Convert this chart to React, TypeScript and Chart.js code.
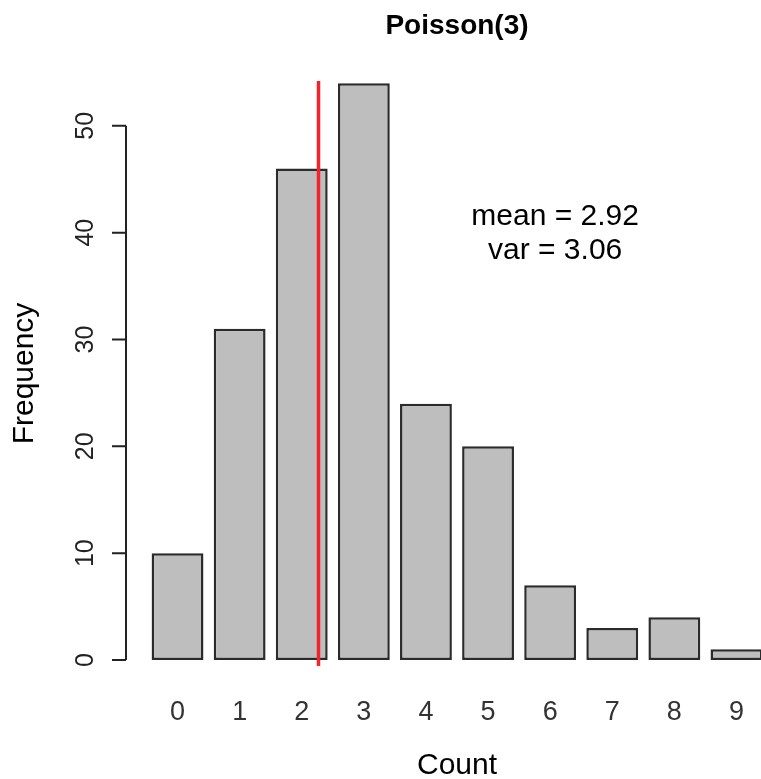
import React, { useEffect, useRef } from "react";
import { Chart, registerables } from "chart.js";

Chart.register(...registerables);

// ---- data ----
const countLabels = ["0", "1", "2", "3", "4", "5", "6", "7", "8", "9"];
const countValues = [0, 1, 2, 3, 4, 5, 6, 7, 8, 9];
const frequencies = [10, 31, 46, 54, 24, 20, 7, 3, 4, 1];
const yTickValues = [0, 10, 20, 30, 40, 50];
const meanLineX = 2.27; // position of the red vertical line, in bar-index units
const chartTitle = "Poisson(3)";
const xAxisTitle = "Count";
const yAxisTitle = "Frequency";
const annotationLines = ["mean = 2.92", "var = 3.06"];
const annotationAt = { x: 6.08, y: 40 };
const xRange = { min: -0.83, max: 9.83 };
const yRange = { min: -0.56, max: 54.2 };

const FONT = '"Liberation Sans", Arial, Helvetica, sans-serif';

const rBasePlot = {
  id: "rBasePlot",
  afterDraw(chart: any) {
    const { ctx, chartArea } = chart;
    const xs = chart.scales.x;
    const ys = chart.scales.y;
    const cx = (chartArea.left + chartArea.right) / 2;
    const cy = (chartArea.top + chartArea.bottom) / 2;
    ctx.save();
    ctx.fillStyle = "#000";
    ctx.textAlign = "center";
    ctx.textBaseline = "alphabetic";

    // main title
    ctx.font = `bold 28px ${FONT}`;
    ctx.fillText(chartTitle, cx, 34);

    // x axis title
    ctx.font = `30px ${FONT}`;
    ctx.fillText(xAxisTitle, cx, 774);

    // y axis title (rotated)
    ctx.save();
    ctx.translate(33, cy);
    ctx.rotate(-Math.PI / 2);
    ctx.fillText(yAxisTitle, 0, 0);
    ctx.restore();

    // y axis line + ticks (R style: spans first to last tick)
    const axX = chartArea.left;
    ctx.strokeStyle = "#222";
    ctx.lineWidth = 2;
    ctx.beginPath();
    ctx.moveTo(axX, ys.getPixelForValue(yTickValues[0]));
    ctx.lineTo(axX, ys.getPixelForValue(yTickValues[yTickValues.length - 1]));
    yTickValues.forEach((v) => {
      const py = ys.getPixelForValue(v);
      ctx.moveTo(axX - 14, py);
      ctx.lineTo(axX, py);
    });
    ctx.stroke();

    // y tick labels (rotated)
    ctx.font = `25px ${FONT}`;
    ctx.fillStyle = "#222";
    yTickValues.forEach((v) => {
      const py = ys.getPixelForValue(v);
      ctx.save();
      ctx.translate(93, py);
      ctx.rotate(-Math.PI / 2);
      ctx.fillText(String(v), 0, 0);
      ctx.restore();
    });

    // x tick labels
    ctx.font = `27px ${FONT}`;
    ctx.fillStyle = "#333";
    countValues.forEach((v, i) => {
      ctx.fillText(countLabels[i], xs.getPixelForValue(v), 720);
    });

    // annotation text
    ctx.font = `30px ${FONT}`;
    ctx.fillStyle = "#000";
    const ax = xs.getPixelForValue(annotationAt.x);
    const ay = ys.getPixelForValue(annotationAt.y);
    ctx.fillText(annotationLines[0], ax, ay - 8);
    ctx.fillText(annotationLines[1], ax, ay + 26);

    ctx.restore();
  },
};

export default function App() {
  const canvasRef = useRef<HTMLCanvasElement | null>(null);

  useEffect(() => {
    const canvas = canvasRef.current;
    if (!canvas) return;
    const chart = new Chart(canvas, {
      type: "bar",
      data: {
        datasets: [
          {
            type: "line",
            label: "mean",
            data: [
              { x: meanLineX, y: yRange.min },
              { x: meanLineX, y: yRange.max },
            ],
            borderColor: "#f3232d",
            borderWidth: 3.5,
            pointRadius: 0,
            order: 0,
          } as any,
          {
            type: "bar",
            label: "Frequency",
            data: countValues.map((c, i) => ({ x: c, y: frequencies[i] })),
            backgroundColor: "#bebebe",
            borderColor: "#2b2b2b",
            borderWidth: 2.5,
            borderSkipped: false,
            barPercentage: 0.835,
            categoryPercentage: 1,
            order: 1,
          } as any,
        ],
      },
      options: {
        responsive: false,
        devicePixelRatio: 1,
        animation: false,
        layout: { padding: { left: 126, top: 81, right: 32, bottom: 113 } },
        plugins: {
          legend: { display: false },
          title: { display: false },
          tooltip: { enabled: false },
        },
        scales: {
          x: {
            type: "linear",
            display: false,
            offset: false,
            min: xRange.min,
            max: xRange.max,
            afterBuildTicks: (scale: any) => {
              scale.ticks = countValues.map((v) => ({ value: v }));
            },
          },
          y: {
            type: "linear",
            display: false,
            min: yRange.min,
            max: yRange.max,
          },
        },
      } as any,
      plugins: [rBasePlot],
    });
    return () => chart.destroy();
  }, []);

  return (
    <div
      style={{
        position: "fixed",
        left: 0,
        top: 0,
        width: 761,
        height: 779,
        overflow: "hidden",
        background: "#fff",
      }}
    >
      <canvas ref={canvasRef} width={820} height={779} style={{ display: "block" }} />
    </div>
  );
}
